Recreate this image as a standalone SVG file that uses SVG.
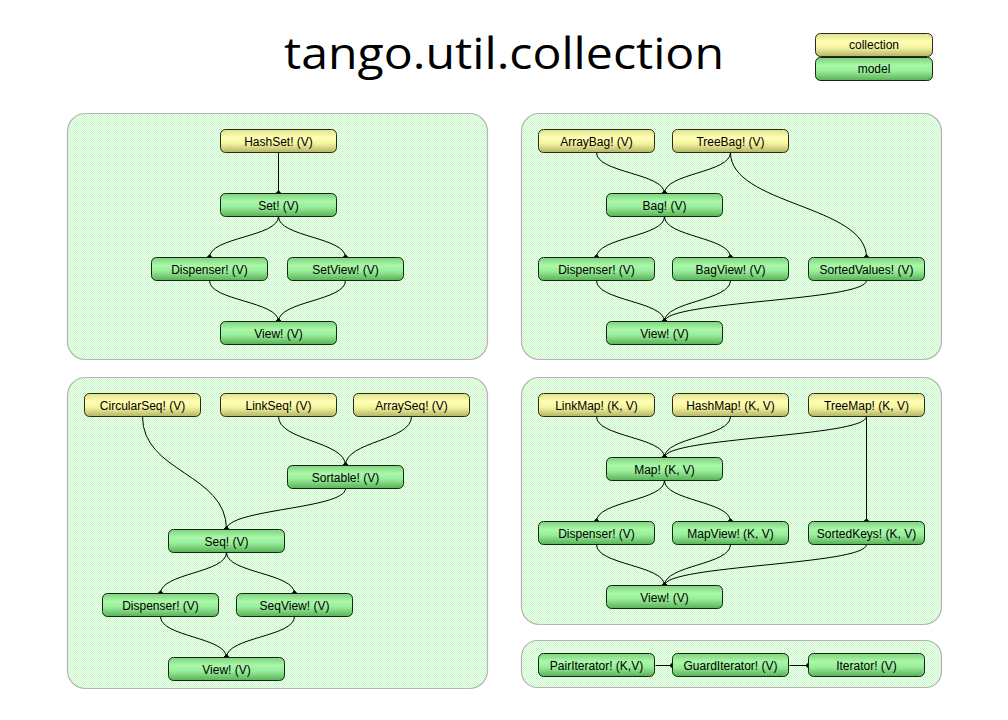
<svg xmlns="http://www.w3.org/2000/svg" width="1008" height="720" viewBox="0 0 1008 720">
<style>
.panel{fill:url(#chk);stroke:#b4b4b4;stroke-width:1.2}
.col rect{fill:url(#gy);stroke:#2a2a10;stroke-width:1}
.mod rect{fill:url(#gg);stroke:#0e2a0e;stroke-width:1}
.n text{font-family:"Liberation Sans",Arial,sans-serif;font-size:12px;fill:#000;text-anchor:middle}
#edges path{fill:none;stroke:#000;stroke-width:1;marker-end:url(#dot)}
.title{font-family:"Open Sans","DejaVu Sans",sans-serif;font-size:43px;fill:#000;text-anchor:middle}
</style>
<defs>
<pattern id="chk" width="2" height="2" patternUnits="userSpaceOnUse">
<rect width="2" height="2" fill="#f0fff0"/>
<rect width="1" height="1" fill="#c8f8c8"/>
<rect x="1" y="1" width="1" height="1" fill="#c8f8c8"/>
</pattern>
<linearGradient id="gy" x1="0" y1="0" x2="0" y2="1">
<stop offset="0" stop-color="#e0e090"/>
<stop offset="0.35" stop-color="#ffffb4"/>
<stop offset="0.6" stop-color="#f4f4a0"/>
<stop offset="1" stop-color="#b4b468"/>
</linearGradient>
<linearGradient id="gg" x1="0" y1="0" x2="0" y2="1">
<stop offset="0" stop-color="#80d080"/>
<stop offset="0.35" stop-color="#a8f8a8"/>
<stop offset="0.6" stop-color="#98ec98"/>
<stop offset="1" stop-color="#58b058"/>
</linearGradient>
<marker id="dot" markerUnits="userSpaceOnUse" markerWidth="8" markerHeight="8" refX="4" refY="4" orient="0">
<path d="M4,0.8 L7.2,4 L4,7.2 L0.8,4 Z" fill="#000"/>
</marker>
</defs>
<rect width="1008" height="720" fill="#fff"/>
<text class="title" x="504" y="69" textLength="440" lengthAdjust="spacingAndGlyphs">tango.util.collection</text>

<g id="legend">
<g id="legend-collection" class="n col"><rect x="815.5" y="33.5" width="117" height="23" rx="5"/><text x="874" y="49">collection</text></g>
<g id="legend-model" class="n mod"><rect x="815.5" y="57.5" width="117" height="23" rx="5"/><text x="874" y="73">model</text></g>
</g>

<g id="panels">
<rect class="panel" x="67.5" y="113.5" width="420" height="246" rx="18"/>
<rect class="panel" x="521.5" y="113.5" width="420" height="246" rx="18"/>
<rect class="panel" x="67.5" y="377.5" width="420" height="311" rx="18"/>
<rect class="panel" x="521.5" y="377.5" width="420" height="247" rx="18"/>
<rect class="panel" x="521.5" y="640.5" width="420" height="47" rx="16"/>
</g>

<g id="edges">
<path d="M278.5,152.5 V193.5"/>
<path d="M278.5,216.5 C278.5,237 209.5,237 209.5,257.5"/>
<path d="M278.5,216.5 C278.5,237 345.5,237 345.5,257.5"/>
<path d="M209.5,280.5 C209.5,301 278.5,301 278.5,321.5"/>
<path d="M345.5,280.5 C345.5,301 278.5,301 278.5,321.5"/>

<path d="M596.5,152.5 C596.5,173 664.5,173 664.5,193.5"/>
<path d="M730.5,152.5 C730.5,173 664.5,173 664.5,193.5"/>
<path d="M730.5,152.5 C730.5,205 866.5,205 866.5,257.5"/>
<path d="M664.5,216.5 C664.5,237 596.5,237 596.5,257.5"/>
<path d="M664.5,216.5 C664.5,237 730.5,237 730.5,257.5"/>
<path d="M596.5,280.5 C596.5,301 664.5,301 664.5,321.5"/>
<path d="M730.5,280.5 C730.5,301 664.5,301 664.5,321.5"/>
<path d="M866.5,280.5 C866.5,301 664.5,301 664.5,321.5"/>

<path d="M278.5,416.5 C278.5,441 345.5,441 345.5,465.5"/>
<path d="M411.5,416.5 C411.5,441 345.5,441 345.5,465.5"/>
<path d="M142.5,416.5 C142.5,473 226.5,473 226.5,529.5"/>
<path d="M345.5,488.5 C345.5,509 226.5,509 226.5,529.5"/>
<path d="M226.5,552.5 C226.5,573 160.5,573 160.5,593.5"/>
<path d="M226.5,552.5 C226.5,573 294.5,573 294.5,593.5"/>
<path d="M160.5,616.5 C160.5,637 226.5,637 226.5,657.5"/>
<path d="M294.5,616.5 C294.5,637 226.5,637 226.5,657.5"/>

<path d="M596.5,416.5 C596.5,437 664.5,437 664.5,457.5"/>
<path d="M730.5,416.5 C730.5,437 664.5,437 664.5,457.5"/>
<path d="M866.5,416.5 C866.5,437 664.5,437 664.5,457.5"/>
<path d="M866.5,416.5 V521.5"/>
<path d="M664.5,480.5 C664.5,501 596.5,501 596.5,521.5"/>
<path d="M664.5,480.5 C664.5,501 730.5,501 730.5,521.5"/>
<path d="M596.5,544.5 C596.5,565 664.5,565 664.5,585.5"/>
<path d="M730.5,544.5 C730.5,565 664.5,565 664.5,585.5"/>
<path d="M866.5,544.5 C866.5,565 664.5,565 664.5,585.5"/>

<path d="M655.5,665.5 H672.5"/>
<path d="M789.5,665.5 H808.5"/>
</g>

<g id="hashset" class="n col"><rect x="220.5" y="129.5" width="116" height="23" rx="5"/><text x="278.5" y="145.5">HashSet! (V)</text></g>
<g id="set" class="n mod"><rect x="220.5" y="193.5" width="116" height="23" rx="5"/><text x="278.5" y="209.5">Set! (V)</text></g>
<g id="set-dispenser" class="n mod"><rect x="151.5" y="257.5" width="116" height="23" rx="5"/><text x="209.5" y="273.5">Dispenser! (V)</text></g>
<g id="setview" class="n mod"><rect x="287.5" y="257.5" width="116" height="23" rx="5"/><text x="345.5" y="273.5">SetView! (V)</text></g>
<g id="set-view" class="n mod"><rect x="220.5" y="321.5" width="116" height="23" rx="5"/><text x="278.5" y="337.5">View! (V)</text></g>

<g id="arraybag" class="n col"><rect x="538.5" y="129.5" width="116" height="23" rx="5"/><text x="596.5" y="145.5">ArrayBag! (V)</text></g>
<g id="treebag" class="n col"><rect x="672.5" y="129.5" width="116" height="23" rx="5"/><text x="730.5" y="145.5">TreeBag! (V)</text></g>
<g id="bag" class="n mod"><rect x="606.5" y="193.5" width="116" height="23" rx="5"/><text x="664.5" y="209.5">Bag! (V)</text></g>
<g id="bag-dispenser" class="n mod"><rect x="538.5" y="257.5" width="116" height="23" rx="5"/><text x="596.5" y="273.5">Dispenser! (V)</text></g>
<g id="bagview" class="n mod"><rect x="672.5" y="257.5" width="116" height="23" rx="5"/><text x="730.5" y="273.5">BagView! (V)</text></g>
<g id="sortedvalues" class="n mod"><rect x="808.5" y="257.5" width="116" height="23" rx="5"/><text x="866.5" y="273.5">SortedValues! (V)</text></g>
<g id="bag-view" class="n mod"><rect x="606.5" y="321.5" width="116" height="23" rx="5"/><text x="664.5" y="337.5">View! (V)</text></g>

<g id="circularseq" class="n col"><rect x="84.5" y="393.5" width="116" height="23" rx="5"/><text x="142.5" y="409.5">CircularSeq! (V)</text></g>
<g id="linkseq" class="n col"><rect x="220.5" y="393.5" width="116" height="23" rx="5"/><text x="278.5" y="409.5">LinkSeq! (V)</text></g>
<g id="arrayseq" class="n col"><rect x="353.5" y="393.5" width="116" height="23" rx="5"/><text x="411.5" y="409.5">ArraySeq! (V)</text></g>
<g id="sortable" class="n mod"><rect x="287.5" y="465.5" width="116" height="23" rx="5"/><text x="345.5" y="481.5">Sortable! (V)</text></g>
<g id="seq" class="n mod"><rect x="168.5" y="529.5" width="116" height="23" rx="5"/><text x="226.5" y="545.5">Seq! (V)</text></g>
<g id="seq-dispenser" class="n mod"><rect x="102.5" y="593.5" width="116" height="23" rx="5"/><text x="160.5" y="609.5">Dispenser! (V)</text></g>
<g id="seqview" class="n mod"><rect x="236.5" y="593.5" width="116" height="23" rx="5"/><text x="294.5" y="609.5">SeqView! (V)</text></g>
<g id="seq-view" class="n mod"><rect x="168.5" y="657.5" width="116" height="23" rx="5"/><text x="226.5" y="673.5">View! (V)</text></g>

<g id="linkmap" class="n col"><rect x="538.5" y="393.5" width="116" height="23" rx="5"/><text x="596.5" y="409.5">LinkMap! (K, V)</text></g>
<g id="hashmap" class="n col"><rect x="672.5" y="393.5" width="116" height="23" rx="5"/><text x="730.5" y="409.5">HashMap! (K, V)</text></g>
<g id="treemap" class="n col"><rect x="808.5" y="393.5" width="116" height="23" rx="5"/><text x="866.5" y="409.5">TreeMap! (K, V)</text></g>
<g id="map" class="n mod"><rect x="606.5" y="457.5" width="116" height="23" rx="5"/><text x="664.5" y="473.5">Map! (K, V)</text></g>
<g id="map-dispenser" class="n mod"><rect x="538.5" y="521.5" width="116" height="23" rx="5"/><text x="596.5" y="537.5">Dispenser! (V)</text></g>
<g id="mapview" class="n mod"><rect x="672.5" y="521.5" width="116" height="23" rx="5"/><text x="730.5" y="537.5">MapView! (K, V)</text></g>
<g id="sortedkeys" class="n mod"><rect x="808.5" y="521.5" width="116" height="23" rx="5"/><text x="866.5" y="537.5">SortedKeys! (K, V)</text></g>
<g id="map-view" class="n mod"><rect x="606.5" y="585.5" width="116" height="23" rx="5"/><text x="664.5" y="601.5">View! (V)</text></g>

<g id="pairiterator" class="n mod"><rect x="538.5" y="653.5" width="116" height="23" rx="5"/><text x="596.5" y="669.5">PairIterator! (K,V)</text></g>
<g id="guarditerator" class="n mod"><rect x="672.5" y="653.5" width="116" height="23" rx="5"/><text x="730.5" y="669.5">GuardIterator! (V)</text></g>
<g id="iterator" class="n mod"><rect x="808.5" y="653.5" width="116" height="23" rx="5"/><text x="866.5" y="669.5">Iterator! (V)</text></g>
</svg>
